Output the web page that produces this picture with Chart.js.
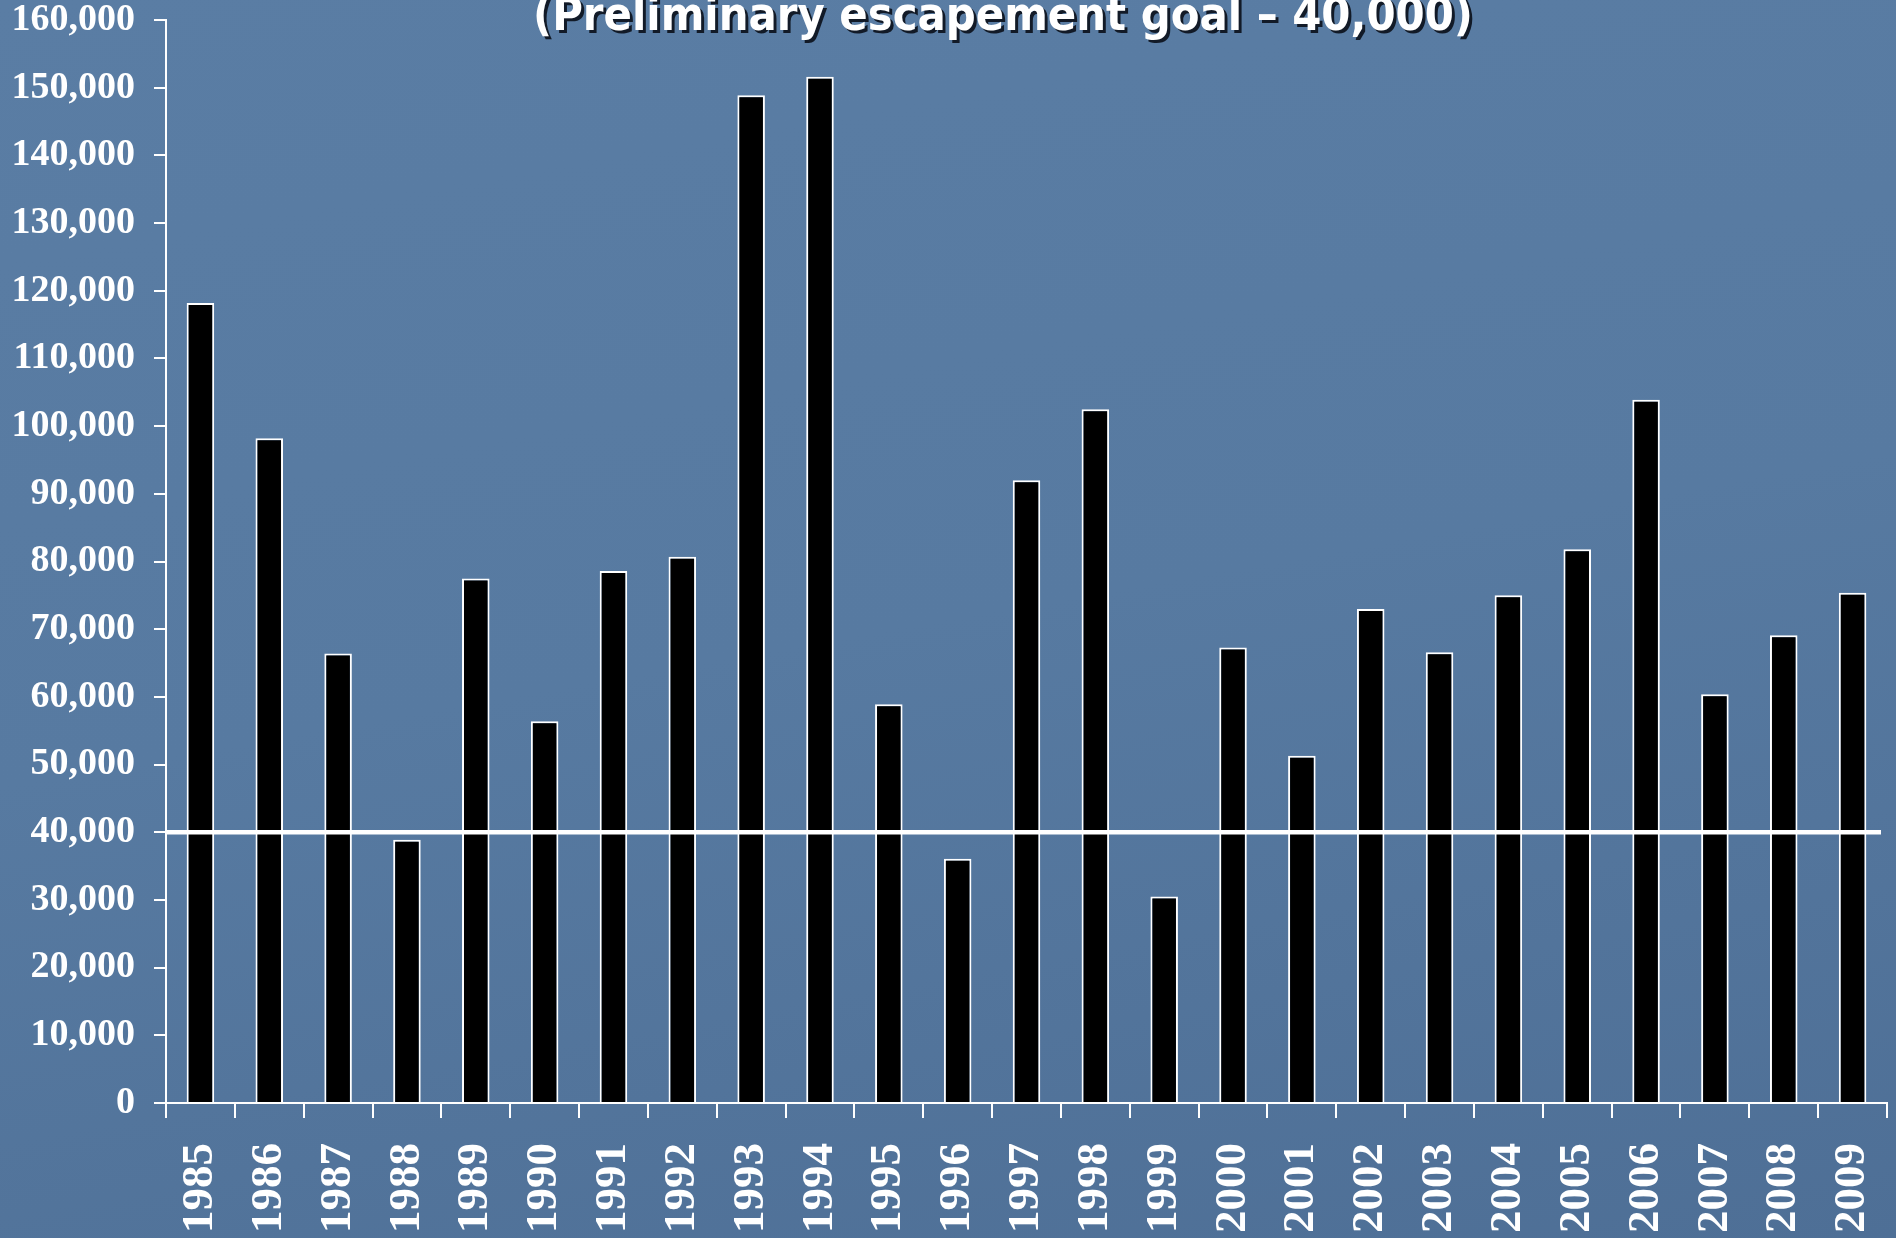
<!DOCTYPE html>
<html>
<head>
<meta charset="utf-8">
<script src="https://cdn.jsdelivr.net/npm/chart.js@4"></script>
<style>
    html, body {
        margin: 0;
        padding: 0;
    }
    body {
        width: 1896px;
        height: 1238px;
        overflow: hidden;
        background: linear-gradient(170deg, #5a7da4 0%, #577aa1 50%, #4e6f96 100%);
    }
    #graph {
        position: relative;
        width: 1896px;
        height: 1238px;
    }
</style>
</head>
<body>
<div id="graph">
    <canvas id="escGraph"></canvas>
</div>
<script>
const years = ["1985", "1986", "1987", "1988", "1989", "1990", "1991", "1992", "1993", "1994",
    "1995", "1996", "1997", "1998", "1999", "2000", "2001", "2002", "2003", "2004",
    "2005", "2006", "2007", "2008", "2009"]
const escapement = [118200, 98200, 66400, 38900, 77500, 56400, 78600, 80700, 148900, 151600,
    58900, 36100, 92000, 102500, 30500, 67300, 51300, 73000, 66600, 75000,
    81800, 103900, 60400, 69100, 75400]
const goal = 40000
const titleText = "(Preliminary escapement goal \u2013 40,000)"

const serif = "'Liberation Serif', 'Times New Roman', serif"

// white goal line across the plot, drawn over the bars
const goalLine = {
    id: "goalLine",
    afterDatasetsDraw(chart) {
        const ctx = chart.ctx
        const area = chart.chartArea
        const y = chart.scales.y.getPixelForValue(goal)
        ctx.save()
        ctx.strokeStyle = "#ffffff"
        ctx.lineWidth = 4.5
        ctx.beginPath()
        ctx.moveTo(area.left, y)
        ctx.lineTo(area.right - 6, y)
        ctx.stroke()
        ctx.restore()
    }
}

// clipped title at the top with a dark drop shadow
const slideTitle = {
    id: "slideTitle",
    afterDraw(chart) {
        const ctx = chart.ctx
        ctx.save()
        ctx.font = "bold 46px 'DejaVu Sans', Verdana, sans-serif"
        ctx.textBaseline = "alphabetic"
        ctx.textAlign = "left"
        const w = ctx.measureText(titleText).width
        const sx = 940 / w
        ctx.translate(533, 30)
        ctx.scale(sx, 1)
        ctx.fillStyle = "rgba(10,15,25,0.9)"
        ctx.fillText(titleText, 3 / sx, 3)
        ctx.fillStyle = "#ffffff"
        ctx.fillText(titleText, 0, 0)
        ctx.restore()
    }
}

const chart = new Chart("escGraph", {
    type: "bar",
    data: {
        labels: years,
        datasets: [{
            label: "Escapement",
            data: escapement,
            backgroundColor: "#000000",
            borderColor: "#ffffff",
            borderWidth: 2,
            barPercentage: 0.4,
            categoryPercentage: 1.0
        }]
    },
    options: {
        responsive: true,
        maintainAspectRatio: false,
        animation: false,
        layout: {
            padding: { top: 20, right: 9, left: 0, bottom: 0 }
        },
        plugins: {
            legend: { display: false },
            tooltip: { enabled: false },
            title: { display: false }
        },
        scales: {
            x: {
                afterFit: scale => {
                    scale.height = 135
                    scale.paddingLeft = 0
                    scale.paddingRight = 0
                },
                grid: {
                    offset: true,
                    drawOnChartArea: false,
                    drawTicks: true,
                    tickLength: 15,
                    color: "#ffffff",
                    lineWidth: 2
                },
                border: { display: true, color: "#ffffff", width: 2 },
                ticks: {
                    color: "#ffffff",
                    minRotation: 90,
                    maxRotation: 90,
                    padding: 25,
                    autoSkip: false,
                    font: { family: serif, size: 45, weight: "bold" }
                }
            },
            y: {
                min: 0,
                max: 160000,
                afterFit: scale => {
                    scale.width = 166
                    scale.paddingTop = 0
                    scale.paddingBottom = 0
                },
                grid: {
                    drawOnChartArea: false,
                    drawTicks: true,
                    tickLength: 12,
                    color: "#ffffff",
                    lineWidth: 2
                },
                border: { display: true, color: "#ffffff", width: 2 },
                ticks: {
                    stepSize: 10000,
                    color: "#ffffff",
                    padding: 19,
                    font: { family: serif, size: 38, weight: "bold" },
                    callback: v => v.toLocaleString("en-US")
                }
            }
        }
    },
    plugins: [goalLine, slideTitle]
})
</script>
</body>
</html>
